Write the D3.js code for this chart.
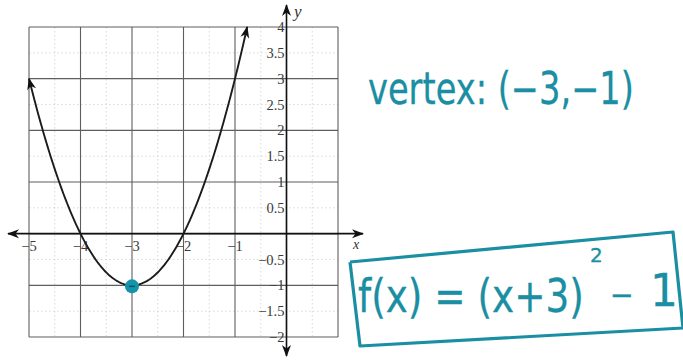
<!DOCTYPE html>
<html>
<head>
<meta charset="utf-8">
<script src="https://cdn.jsdelivr.net/npm/d3@7"></script>
<style>
  html, body { margin: 0; padding: 0; background: #fff; }
  svg { display: block; }
</style>
</head>
<body>
<svg id="chart" width="683" height="360"></svg>
<script>
// Axis ranges and tick labels
const xDomain = [-5, 1];
const yDomain = [-2, 4];
const xMajor = [-5, -4, -3, -2, -1, 0, 1];
const yMajor = [-2, -1, 0, 1, 2, 3, 4];
const xMinor = [-4.5, -3.5, -2.5, -1.5, -0.5, 0.5];
const yMinor = [-1.5, -0.5, 0.5, 1.5, 2.5, 3.5];
const xTickLabels = [-5, -4, -3, -2, -1];
const yTickLabels = [4, 3.5, 3, 2.5, 2, 1.5, 1, 0.5, -0.5, -1, -1.5, -2];

// f(x) = a(x - h)^2 + k, vertex (h, k)
const vertex = [-3, -1];
const coefA = 1;
const curveDomain = [-5, -3 + Math.sqrt(5)];

// Handwritten notes
const vertexNote = "vertex: (−3,−1)";
const formulaMain = "f(x) = (x+3)";
const formulaExp = "2";
const formulaMinus = "−";
const formulaOne = "1";

const ink = "#1a8ea2";
const serif = "'Liberation Serif', 'Times New Roman', serif";
const svg = d3.select("#chart");

const x = d3.scaleLinear().domain(xDomain).range([29, 338]);
const y = d3.scaleLinear().domain(yDomain).range([337, 27]);

// Arrow markers
const defs = svg.append("defs");
defs.append("marker")
  .attr("id", "ah").attr("viewBox", "0 0 12 10")
  .attr("refX", 11).attr("refY", 5)
  .attr("markerWidth", 12).attr("markerHeight", 10)
  .attr("markerUnits", "userSpaceOnUse")
  .attr("orient", "auto-start-reverse")
  .append("path")
  .attr("d", "M0,0.5 L12,5 L0,9.5 L3.5,5 Z")
  .attr("fill", "#111");

// Minor grid
const g = svg.append("g");
g.selectAll(".vminor").data(xMinor).join("line")
  .attr("x1", d => x(d)).attr("x2", d => x(d))
  .attr("y1", y(yDomain[1])).attr("y2", y(yDomain[0]))
  .attr("stroke", "#cfcfcf").attr("stroke-width", 0.8).attr("stroke-dasharray", "1.5,2.5");
g.selectAll(".hminor").data(yMinor).join("line")
  .attr("y1", d => y(d)).attr("y2", d => y(d))
  .attr("x1", x(xDomain[0])).attr("x2", x(xDomain[1]))
  .attr("stroke", "#cfcfcf").attr("stroke-width", 0.8).attr("stroke-dasharray", "1.5,2.5");

// Major grid
g.selectAll(".vmajor").data(xMajor).join("line")
  .attr("x1", d => x(d)).attr("x2", d => x(d))
  .attr("y1", y(yDomain[1])).attr("y2", y(yDomain[0]))
  .attr("stroke", "#5e5e5e").attr("stroke-width", 1.1);
g.selectAll(".hmajor").data(yMajor).join("line")
  .attr("y1", d => y(d)).attr("y2", d => y(d))
  .attr("x1", x(xDomain[0])).attr("x2", x(xDomain[1]))
  .attr("stroke", "#5e5e5e").attr("stroke-width", 1.1);

// Tick labels
const fmt = v => String(v).replace("-", "\u2212");
svg.append("g").selectAll("text").data(yTickLabels).join("text")
  .attr("x", x(0) - 2).attr("y", d => y(d) + 5)
  .attr("text-anchor", "end")
  .style("font-family", serif).attr("font-size", 14.5)
  .attr("fill", "#3a3a3a")
  .text(fmt);
svg.append("g").selectAll("text").data(xTickLabels).join("text")
  .attr("x", d => x(d)).attr("y", y(0) + 17)
  .attr("text-anchor", "middle")
  .style("font-family", serif).attr("font-size", 14.5)
  .attr("fill", "#3a3a3a")
  .text(fmt);

// Axes with arrows at both ends
svg.append("line")
  .attr("x1", x(0)).attr("x2", x(0)).attr("y1", 5).attr("y2", 356)
  .attr("stroke", "#111").attr("stroke-width", 1.6)
  .attr("marker-start", "url(#ah)").attr("marker-end", "url(#ah)");
svg.append("line")
  .attr("x1", 8).attr("x2", 363).attr("y1", y(0)).attr("y2", y(0))
  .attr("stroke", "#111").attr("stroke-width", 1.6)
  .attr("marker-start", "url(#ah)").attr("marker-end", "url(#ah)");

svg.append("text").attr("x", 353).attr("y", 249)
  .style("font-family", serif).attr("font-style", "italic")
  .attr("font-size", 14).attr("fill", "#333").text("x");
svg.append("text").attr("x", 294).attr("y", 17)
  .style("font-family", serif).attr("font-style", "italic")
  .attr("font-size", 17).attr("fill", "#333").text("y");

// Parabola
const f = t => coefA * (t - vertex[0]) ** 2 + vertex[1];
const xs = d3.range(0, 201).map(i => curveDomain[0] + (curveDomain[1] - curveDomain[0]) * i / 200);
svg.append("path")
  .datum(xs)
  .attr("d", d3.line().x(t => x(t)).y(t => y(f(t))))
  .attr("fill", "none").attr("stroke", "#1c1c1c").attr("stroke-width", 1.9)
  .attr("marker-start", "url(#ah)").attr("marker-end", "url(#ah)");

// Vertex dot
svg.append("circle")
  .attr("cx", x(vertex[0])).attr("cy", y(vertex[1]) + 1).attr("r", 7)
  .attr("fill", "#1593ab");
svg.append("line")
  .attr("x1", x(vertex[0]) - 3).attr("x2", x(vertex[0]) + 3)
  .attr("y1", y(vertex[1]) + 1).attr("y2", y(vertex[1]) + 1)
  .attr("stroke", "#0d5566").attr("stroke-width", 1.5);

// Ink text, squeezed horizontally to a target width with a transform
function inkText(tx, ty, size, s, width) {
  const t = svg.append("text")
    .attr("x", 0).attr("y", 0)
    .attr("font-family", "DejaVu Sans, sans-serif").attr("font-size", size)
    .attr("fill", ink).attr("stroke", ink).attr("stroke-width", 0.3)
    .text(s);
  let sx = 1;
  if (width) sx = width / t.node().getComputedTextLength();
  t.attr("transform", `translate(${tx},${ty}) scale(${sx},1)`);
  return t;
}

// Vertex note
inkText(368, 104, 44, vertexNote, 266);

// Formula box
svg.append("path")
  .attr("d", d3.line()([[350, 262], [673, 232], [683, 328], [360, 346], [350, 262]]))
  .attr("fill", "none").attr("stroke", ink).attr("stroke-width", 3.2)
  .attr("stroke-linejoin", "round");

inkText(358, 312, 46, formulaMain, 226);
inkText(590, 262, 20, formulaExp);
inkText(610, 306, 32, formulaMinus, 24);
inkText(650, 306, 44, formulaOne);
</script>
</body>
</html>
